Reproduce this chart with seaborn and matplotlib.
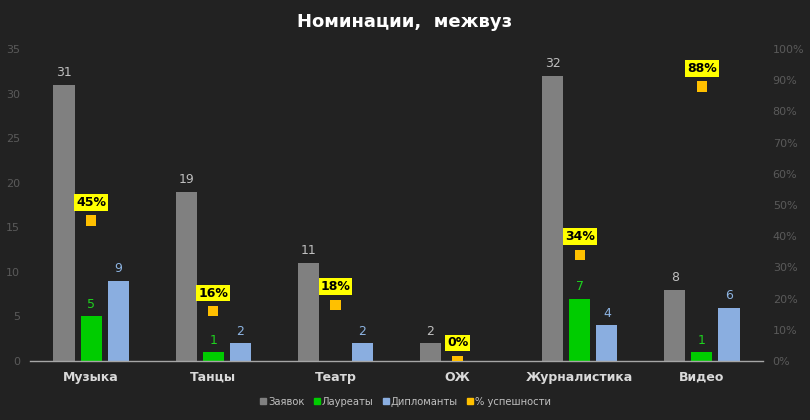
import pandas as pd
import seaborn as sns
from matplotlib import pyplot as plt
from matplotlib import ticker as plticker
from matplotlib.lines import Line2D

# chart data
categories = ['Музыка', 'Танцы', 'Театр', 'ОЖ', 'Журналистика', 'Видео']
applications = [31, 19, 11, 2, 32, 8]
laureates = [5, 1, 0, 0, 7, 1]
diplomas = [9, 2, 2, 0, 4, 6]
success_pct = [45, 16, 18, 0, 34, 88]

series_names = ['Заявок', 'Лауреаты', 'Дипломанты']
pct_name = '% успешности'

BG = '#222222'
colors = ['#808080', '#00CC00', '#8AAEE0']
label_colors = ['#BFBFBF', '#1ED21E', '#8DB4E2']
pct_color = '#FFC000'

df = pd.DataFrame({
    'Номинация': categories * 3,
    'Серия': [s for s in series_names for _ in categories],
    'Значение': applications + laureates + diplomas,
})
df_pct = pd.DataFrame({'Номинация': categories, 'pct': success_pct})

sns.set_theme(style='dark', rc={
    'axes.facecolor': BG,
    'figure.facecolor': BG,
})
plt.rcParams['font.family'] = ['DejaVu Sans']

fig = plt.figure(figsize=(8.1, 4.2), dpi=100)
ax = fig.add_axes([30 / 810, 1 - 361 / 420, 733 / 810, 312 / 420])

sns.barplot(data=df, x='Номинация', y='Значение', hue='Серия',
            hue_order=series_names, palette=colors, width=0.665, gap=0.22,
            saturation=1, linewidth=0, edgecolor='none', legend=False, ax=ax)

for cont, col, vals in zip(ax.containers, label_colors,
                           [applications, laureates, diplomas]):
    ax.bar_label(cont, labels=[str(v) if v else '' for v in vals],
                 color=col, fontsize=9, padding=4)

ax.set_ylim(0, 35)
ax.set_xlim(-0.5, len(categories) - 0.5)
ax.yaxis.set_major_locator(plticker.MultipleLocator(5))
ax.set_xlabel('')
ax.set_ylabel('')
ax.tick_params(axis='y', length=0, pad=7, labelsize=8, labelcolor='#5A5A5A')
ax.tick_params(axis='x', length=0, pad=7, labelsize=9, labelcolor='#D9D9D9')
for lbl in ax.get_xticklabels():
    lbl.set_fontweight('bold')
for side in ['top', 'left', 'right']:
    ax.spines[side].set_visible(False)
ax.spines['bottom'].set_color('#A6A6A6')
ax.spines['bottom'].set_linewidth(1)
ax.grid(False)

# percentage on secondary axis
ax2 = ax.twinx()
sns.scatterplot(data=df_pct, x='Номинация', y='pct', marker='s', s=55,
                color=pct_color, edgecolor='none', legend=False, ax=ax2,
                zorder=5)
ax2.set_ylim(0, 100)
ax2.yaxis.set_major_locator(plticker.MultipleLocator(10))
ax2.yaxis.set_major_formatter(plticker.FuncFormatter(lambda v, p: f'{v:.0f}%'))
ax2.tick_params(axis='y', length=0, pad=7, labelsize=8, labelcolor='#5A5A5A')
ax2.set_ylabel('')
ax2.grid(False)
for side in ax2.spines:
    ax2.spines[side].set_visible(False)
ax2.set_xlim(-0.5, len(categories) - 0.5)

for i, v in enumerate(success_pct):
    ax2.annotate(f'{v}%', (i, v), xytext=(0, 13), textcoords='offset points',
                 ha='center', va='center', fontsize=9, fontweight='bold',
                 color='black', zorder=6,
                 bbox=dict(boxstyle='square,pad=0.15', fc='#FFFF00', ec='none'))

fig.text(0.5, 1 - 22 / 420, 'Номинации,  межвуз', ha='center', va='center',
         fontsize=13, fontweight='bold', color='white')

handles = [Line2D([], [], marker='s', ls='', color=c, markersize=5)
           for c in colors]
handles.append(Line2D([], [], marker='s', ls='', color=pct_color,
                      markersize=5))
fig.legend(handles, series_names + [pct_name], loc='center',
           bbox_to_anchor=(0.5, 1 - 402 / 420), ncol=4, frameon=False,
           fontsize=7.2, labelcolor='#BFBFBF', handletextpad=0.1,
           columnspacing=0.8, handlelength=0.8)

fig.savefig('out.png', dpi=100, facecolor=BG)
